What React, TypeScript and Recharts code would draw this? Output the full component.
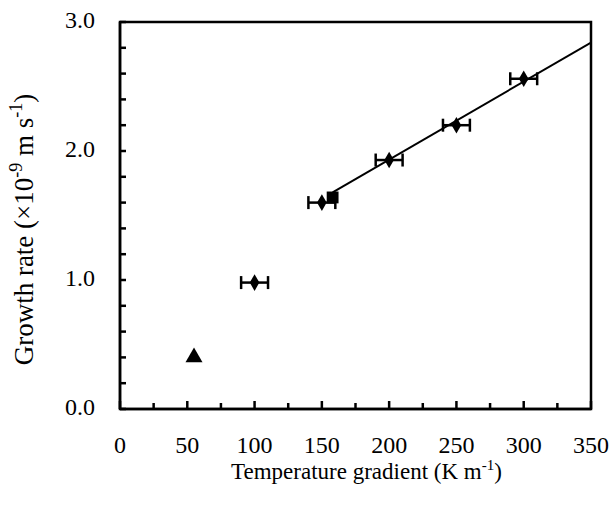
import React from 'react';
import {
  ComposedChart,
  XAxis,
  YAxis,
  Scatter,
  ErrorBar,
  ReferenceArea,
  Symbols,
} from 'recharts';

// ---- data ----
const diamondX = [100, 150, 200, 250, 300];
const diamondY = [0.98, 1.6, 1.93, 2.2, 2.56];
const diamondErr = [10, 10, 10, 10, 10];

const squareX = [158];
const squareY = [1.64];

const triangleX = [55];
const triangleY = [0.4];

const trendX = [158, 350];
const trendY = [1.68, 2.84];

const xTicks = [0, 25, 50, 75, 100, 125, 150, 175, 200, 225, 250, 275, 300, 325, 350];
const xTickLabels: Record<number, string> = {
  0: '0', 50: '50', 100: '100', 150: '150', 200: '200', 250: '250', 300: '300', 350: '350',
};
const yTicks = [0, 0.2, 0.4, 0.6, 0.8, 1.0, 1.2, 1.4, 1.6, 1.8, 2.0, 2.2, 2.4, 2.6, 2.8, 3.0];
const yTickLabels = ['0.0', '1.0', '2.0', '3.0'];

const diamondData = diamondX.map((x, i) => ({ x, y: diamondY[i], err: diamondErr[i] }));
const squareData = squareX.map((x, i) => ({ x, y: squareY[i] }));
const triangleData = triangleX.map((x, i) => ({ x, y: triangleY[i] }));
const trendData = trendX.map((x, i) => ({ x, y: trendY[i] }));

const FONT = '"Liberation Serif", "Times New Roman", serif';

const XTick = (props: any) => {
  const { x, y, payload } = props;
  const v = payload.value;
  const label = xTickLabels[v];
  return (
    <g>
      <line x1={x} x2={x} y1={y} y2={y - (label ? 8 : 6)} stroke="#000" strokeWidth={2.5} />
      {label !== undefined && (
        <text x={x} y={y + 44} textAnchor="middle" fontFamily={FONT} fontSize={24} fill="#000">
          {label}
        </text>
      )}
    </g>
  );
};

const YTick = (props: any) => {
  const { x, y, payload } = props;
  const v = payload.value;
  const isMajor = Math.abs(v - Math.round(v)) < 1e-9;
  return (
    <g>
      <line x1={x} x2={x + 6} y1={y} y2={y} stroke="#000" strokeWidth={2.5} />
      {isMajor && (
        <text x={x - 25} y={y + 6} textAnchor="end" fontFamily={FONT} fontSize={24} fill="#000">
          {yTickLabels[Math.round(v)]}
        </text>
      )}
    </g>
  );
};

const XTitle = (props: any) => {
  const vb = props.viewBox || {};
  const cx = vb.x + vb.width / 2 + 11;
  const cy = vb.y + 70;
  return (
    <text x={cx} y={cy} textAnchor="middle" fontFamily={FONT} fontSize={23} fill="#000">
      Temperature gradient (K m
      <tspan dy={-9} fontSize={15}>-1</tspan>
      <tspan dy={9}>)</tspan>
    </text>
  );
};

const YTitle = (props: any) => {
  const vb = props.viewBox || {};
  const bx = vb.x + vb.width - 87;
  const cy = vb.y + vb.height / 2 + 14;
  return (
    <text
      x={bx}
      y={cy}
      transform={`rotate(-90, ${bx}, ${cy})`}
      textAnchor="middle"
      fontFamily={FONT}
      fontSize={27}
      fill="#000"
    >
      Growth rate (×10
      <tspan dy={-11} fontSize={18}>-9</tspan>
      <tspan dy={11}> m s</tspan>
      <tspan dy={-11} fontSize={18}>-1</tspan>
      <tspan dy={11}>)</tspan>
    </text>
  );
};

const makeShape = (type: any, size: number) => (p: any) => (
  <Symbols cx={p.cx} cy={p.cy} type={type} size={size} fill="#000" />
);

export default function App() {
  return (
    <div style={{ position: 'absolute', left: 0, top: 0, width: 611, height: 515, background: '#fff' }}>
      <ComposedChart
        width={611}
        height={515}
        margin={{ top: 22, right: 20, bottom: 0, left: 0 }}
      >
        <XAxis
          dataKey="x"
          type="number"
          domain={[0, 350]}
          ticks={xTicks}
          interval={0}
          height={106}
          tickSize={0}
          tickMargin={0}
          tick={XTick}
          tickLine={false}
          axisLine={{ stroke: '#000', strokeWidth: 2.5 }}
          allowDataOverflow
          label={XTitle}
        />
        <YAxis
          dataKey="y"
          type="number"
          domain={[0, 3]}
          ticks={yTicks}
          interval={0}
          width={120}
          tickSize={0}
          tickMargin={0}
          tick={YTick}
          tickLine={false}
          axisLine={{ stroke: '#000', strokeWidth: 2.5 }}
          allowDataOverflow
          label={YTitle}
        />
        <ReferenceArea x1={0} x2={350} y1={0} y2={3} fill="none" stroke="#000" strokeWidth={2.5} />
        <Scatter
          data={trendData}
          line={{ stroke: '#000', strokeWidth: 2 }}
          shape={() => <g />}
          isAnimationActive={false}
        />
        <Scatter data={diamondData} shape={makeShape('diamond', 80)} fill="#000" isAnimationActive={false}>
          <ErrorBar dataKey="err" direction="x" width={6.5} stroke="#000" strokeWidth={2.5} isAnimationActive={false} />
        </Scatter>
        <Scatter data={squareData} shape={makeShape('square', 140)} fill="#000" isAnimationActive={false} />
        <Scatter data={triangleData} shape={makeShape('triangle', 125)} fill="#000" isAnimationActive={false} />
      </ComposedChart>
    </div>
  );
}
